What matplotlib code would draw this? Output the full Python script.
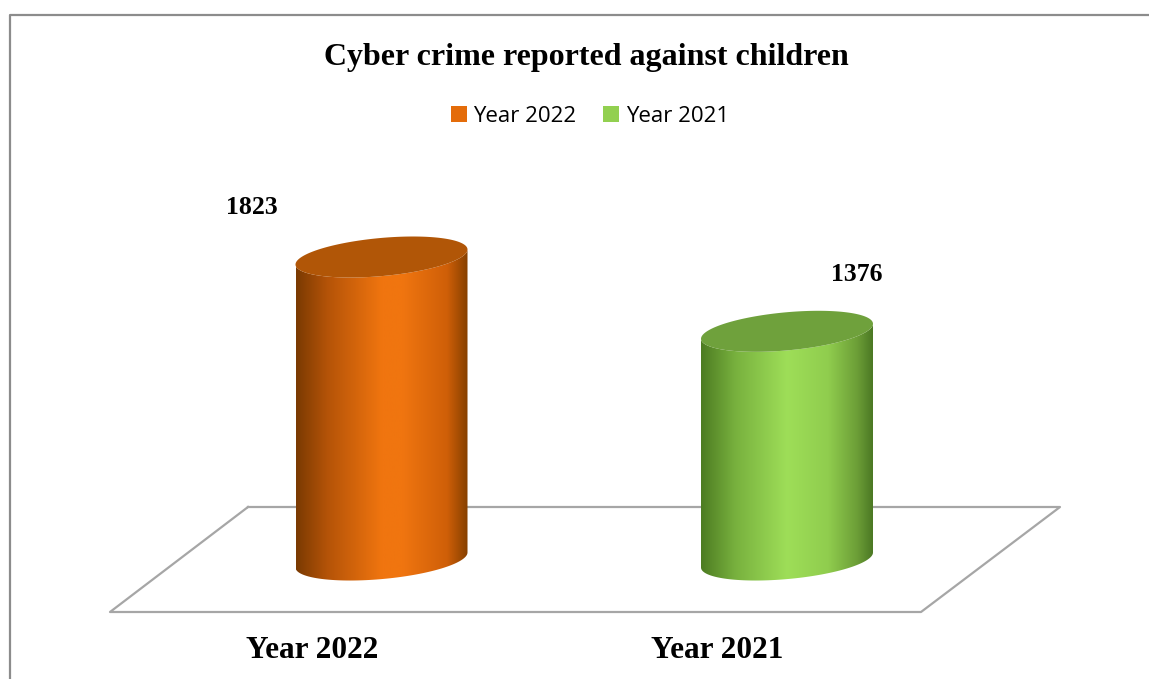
import numpy as np
import matplotlib
matplotlib.use("Agg")
import matplotlib.pyplot as plt
from matplotlib.patches import Polygon, Patch
from matplotlib.lines import Line2D
from matplotlib.colors import LinearSegmentedColormap

# data
categories = ["Year 2022", "Year 2021"]
values = [1823, 1376]

# colours: body gradient stops (left -> right) and top cap
body_stops = [
    [(0.0, "#7a3a02"), (0.18, "#b45308"), (0.5, "#f0750f"), (0.62, "#f07510"), (0.88, "#cf5f08"), (1.0, "#864000")],
    [(0.0, "#4d7c22"), (0.2, "#78b13e"), (0.5, "#9ede58"), (0.74, "#90cd4e"), (0.91, "#6c9e37"), (1.0, "#4c7924")],
]
cap_colors = ["#b15607", "#6fa13c"]
legend_colors = ["#e46c0a", "#92d050"]

# label offsets (points) relative to each bar's top / base
value_offsets = [(-93, 36), (50, 41)]
cat_offset = (-50, -65)

W, H = 1149, 679
fig = plt.figure(figsize=(W / 100, H / 100), dpi=100)
ax = fig.add_axes([0, 0, 1, 1])
ax.axis("off")

# pixel layout of the plot area
x0_px, dx_px = 381.5, 405.5   # first bar centre, bar spacing
base_px = 560                 # value 0 (from top)
ppu = 0.1662                  # pixels per unit value
xlim = (-x0_px / dx_px, (W - x0_px) / dx_px)
ylim = (-(H - base_px) / ppu, base_px / ppu)

half_w = 86 / dx_px
eb = 19.1 / ppu
ek = 7.5 / ppu


def ellipse_pts(cx, cy, t):
    return cx + half_w * np.cos(t), cy + eb * np.sin(t) + ek * np.cos(t)


# floor (behind the bars)
floor = [(248, 507), (1060, 507), (921, 612), (110, 612), (248, 507)]
fx = [p[0] / W for p in floor]
fy = [1 - p[1] / H for p in floor]
ax.add_line(Line2D(fx, fy, transform=fig.transFigure, color="#a6a6a6", lw=1.6, zorder=1))

for i, v in enumerate(values):
    cx = i
    lower = np.linspace(np.pi, 2 * np.pi, 80)
    bx, by = ellipse_pts(cx, 0, lower)
    tx, ty = ellipse_pts(cx, v, lower[::-1])
    poly_x = np.concatenate([[cx - half_w], bx, [cx + half_w], tx])
    poly_y = np.concatenate([[v - ek], by, [v + ek], ty])
    body = Polygon(np.column_stack([poly_x, poly_y]), closed=True, facecolor="none", edgecolor="none")
    ax.add_patch(body)
    cmap = LinearSegmentedColormap.from_list("cyl%d" % i, body_stops[i])
    grad = np.linspace(0, 1, 256).reshape(1, -1)
    im = ax.imshow(grad, cmap=cmap, aspect="auto", interpolation="bilinear",
                   extent=[cx - half_w, cx + half_w, -eb - ek, v + eb + ek], zorder=2)
    im.set_clip_path(body)

    full = np.linspace(0, 2 * np.pi, 160)
    ex, ey = ellipse_pts(cx, v, full)
    ax.add_patch(Polygon(np.column_stack([ex, ey]), closed=True, facecolor=cap_colors[i],
                         edgecolor="none", zorder=3))

    ax.annotate(str(v), xy=(cx, v), xytext=value_offsets[i], textcoords="offset points",
                ha="center", va="center", fontsize=18.5, fontweight="bold",
                family="Liberation Serif", zorder=5)
    ax.annotate(categories[i], xy=(cx, 0), xytext=cat_offset, textcoords="offset points",
                ha="center", va="center", fontsize=22.5, fontweight="bold",
                family="Liberation Serif", zorder=5)

ax.set_xlim(*xlim)
ax.set_ylim(*ylim)

# outer chart border (top and left visible)
ax.add_line(Line2D([10 / W, 10 / W, 1], [0, 1 - 15 / H, 1 - 15 / H], transform=fig.transFigure,
                   color="#8c8c8c", lw=1.6, zorder=6))

fig.text(586 / W, 1 - 57 / H, "Cyber crime reported against children", ha="center", va="center",
         fontsize=23, fontweight="bold", family="Liberation Serif")

handles = [Patch(facecolor=c, edgecolor="none") for c in legend_colors]
fig.legend(handles, categories, loc="center", bbox_to_anchor=(590 / W, 1 - 116 / H), ncol=2,
           frameon=False, handlelength=0.7, handleheight=0.7, handletextpad=0.3,
           columnspacing=1.2, prop={"family": "Open Sans", "size": 16})

fig.savefig("out.png", dpi=100)
